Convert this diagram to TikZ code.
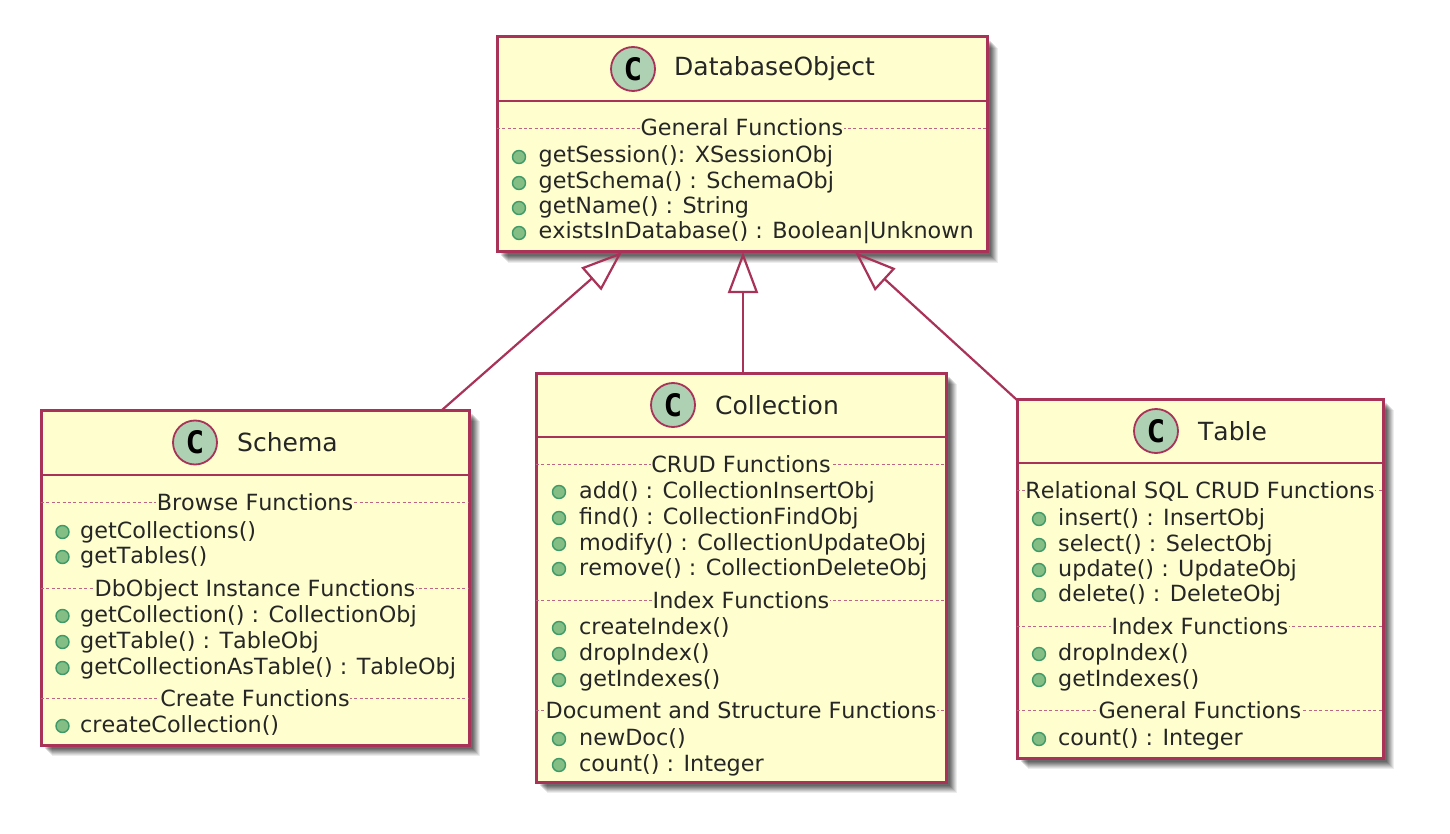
\documentclass[tikz,border=0pt]{standalone}
\usepackage{fontspec}
\setmainfont[Kerning=Off]{DejaVu Sans}
\newfontfamily\badgefont{DejaVu Sans Mono}
\usetikzlibrary{arrows.meta,calc}
\definecolor{umlred}{HTML}{A83258}
\definecolor{umlbg}{HTML}{FEFECE}
\definecolor{circfill}{HTML}{ADD1B2}
\definecolor{bulfill}{HTML}{84BE84}
\definecolor{bulline}{HTML}{3E9A68}
\definecolor{inkc}{HTML}{262626}
\newcounter{mctr}
\tikzset{
  x=1pt,y=-1pt,
  classbox/.style={draw=umlred,line width=3pt,fill=umlbg,rectangle,inner sep=0pt,outer sep=0pt,anchor=north west},
  divider/.style={draw=umlred,line width=2.4pt},
  sepline/.style={draw=umlred!75,line width=1.2pt,dash pattern=on 3pt off 2.4pt},
  seplabel/.style={fill=umlbg,inner sep=0pt,inner xsep=0.5pt,font=\fontsize{22.3}{26}\selectfont,text=inkc,anchor=base,text height=16pt,text depth=5pt,yshift=-1pt},
  member/.style={inner sep=0pt,anchor=base west,font=\fontsize{22.3}{26}\selectfont,text=inkc,yshift=-1pt},
  bullet/.style={circle,draw=bulline,line width=1.4pt,fill=bulfill,minimum size=13pt,inner sep=0pt},
  badge/.style={circle,draw=umlred,line width=1.8pt,fill=circfill,minimum size=44pt,inner sep=0pt,font=\badgefont\fontsize{31}{32}\bfseries\selectfont,text=black},
  classtitle/.style={inner sep=0pt,anchor=west,font=\fontsize{25}{30}\selectfont,text=inkc},
  inherit/.style={draw=umlred,line width=2.2pt,{Triangle[open,length=41pt,width=30pt,line width=2.2pt]}-},
}
% name, left, top, right, bottom, header line y, title, badge x, title x
\newcommand{\umlclass}[9]{%
  \foreach \s/\o in {11/.07,10/.08,9/.09,8/.10,7/.11,6/.12,5/.12,4/.12}{
    \fill[black,opacity=\o] (#2+\s,#3+\s) rectangle (#4+\s,#5+\s);
  }
  \node[classbox,minimum width=#4-#2,minimum height=#5-#3] (#1) at (#2,#3) {};
  \draw[divider] (#2,#6) -- (#4,#6);
  \node[badge] (#1badge) at (#8,{(#3+#6)/2}) {C};
  \node[classtitle] (#1title) at (#9,{(#3+#6)/2}) {#7};
}
% left, right, y, text
\newcommand{\umlsep}[4]{%
  \stepcounter{mctr}%
  \draw[sepline] (#1,#3) -- (#2,#3);
  \node[seplabel] (s\arabic{mctr}) at ({(#1+#2)/2},#3+6.5) {#4};
}
% bullet x, text x, baseline, text
\newcommand{\umlmember}[4]{%
  \stepcounter{mctr}%
  \node[bullet] (b\arabic{mctr}) at (#1,#3-5) {};
  \node[member] (m\arabic{mctr}) at (#2,#3) {#4};
}
\begin{document}
\begin{tikzpicture}
\useasboundingbox (0,0) rectangle (1450,834);
\fill[white] (0,0) rectangle (1450,834);

\umlclass{dbo}{497}{37}{987}{252}{101}{DatabaseObject}{633}{674}
\umlsep{497}{987}{128.5}{General Functions}
\umlmember{519}{538.5}{162}{getSession(): XSessionObj}
\umlmember{519}{538.5}{188}{getSchema() : SchemaObj}
\umlmember{519}{538.5}{213}{getName() : String}
\umlmember{519}{538.5}{238}{existsInDatabase() : Boolean|Unknown}

\umlclass{schema}{41}{410}{469}{745}{475}{Schema}{195}{237}
\umlsep{41}{469}{502.5}{Browse Functions}
\umlmember{62.5}{80}{537}{getCollections()}
\umlmember{62.5}{80}{562}{getTables()}
\umlsep{41}{469}{588.5}{DbObject Instance Functions}
\umlmember{62.5}{80}{621}{getCollection() : CollectionObj}
\umlmember{62.5}{80}{647}{getTable() : TableObj}
\umlmember{62.5}{80}{673}{getCollectionAsTable() : TableObj}
\umlsep{41}{469}{698.5}{Create Functions}
\umlmember{62.5}{80}{731}{createCollection()}

\umlclass{coll}{536}{373}{946}{782}{437}{Collection}{673}{715}
\umlsep{536}{946}{464.5}{CRUD Functions}
\umlmember{559}{579}{497}{add() : CollectionInsertObj}
\umlmember{559}{579}{523}{find() : CollectionFindObj}
\umlmember{559}{579}{549}{modify() : CollectionUpdateObj}
\umlmember{559}{579}{574}{remove() : CollectionDeleteObj}
\umlsep{536}{946}{600.5}{Index Functions}
\umlmember{559}{579}{633}{createIndex()}
\umlmember{559}{579}{659}{dropIndex()}
\umlmember{559}{579}{685}{getIndexes()}
\umlsep{536}{946}{710.5}{Document and Structure Functions}
\umlmember{559}{579}{744}{newDoc()}
\umlmember{559}{579}{770}{count() : Integer}

\umlclass{tbl}{1017}{399}{1383}{758}{463}{Table}{1156}{1198}
\umlsep{1017}{1383}{490.5}{Relational SQL CRUD Functions}
\umlmember{1039}{1058}{524}{insert() : InsertObj}
\umlmember{1039}{1058}{550}{select() : SelectObj}
\umlmember{1039}{1058}{575}{update() : UpdateObj}
\umlmember{1039}{1058}{600}{delete() : DeleteObj}
\umlsep{1017}{1383}{626.5}{Index Functions}
\umlmember{1039}{1058}{659}{dropIndex()}
\umlmember{1039}{1058}{685}{getIndexes()}
\umlsep{1017}{1383}{710.5}{General Functions}
\umlmember{1039}{1058}{744}{count() : Integer}

\draw[inherit] ([xshift=-120pt]dbo.south) -- ([xshift=187pt]schema.north);
\draw[inherit] ([xshift=1pt]dbo.south) -- ([xshift=1pt]dbo.south |- coll.north);
\draw[inherit] ([xshift=113pt]dbo.south) -- ([yshift=-1pt]tbl.north west);
\end{tikzpicture}
\end{document}
